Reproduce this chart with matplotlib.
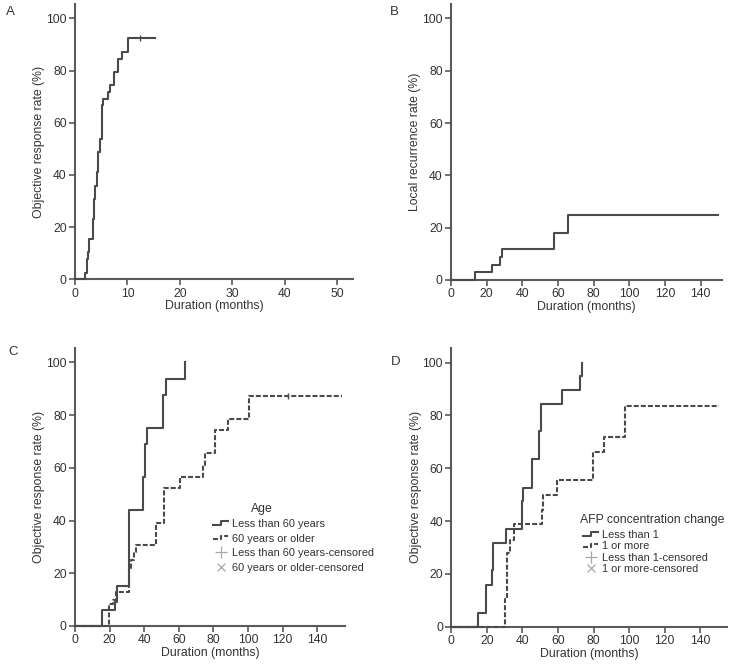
import matplotlib
matplotlib.use("Agg")
import matplotlib.pyplot as plt
from matplotlib.lines import Line2D
from matplotlib.legend_handler import HandlerBase

# Panel A - objective response over time
A_time = [0, 1.9, 2.2, 2.4, 2.7, 3.4, 3.6, 3.75, 3.9, 4.15, 4.4, 4.8, 5.2, 5.35,
          6.25, 6.6, 7.5, 8.2, 8.9, 10.1, 15.3]
A_rate = [0, 2.6, 7.7, 10.3, 15.4, 23.1, 30.8, 33.3, 35.9, 41.0, 48.7, 53.8, 66.7, 69.2,
          71.8, 74.4, 79.5, 84.6, 87.2, 92.3, 92.3]
A_cens = [12.3]

# Panel B - local recurrence
B_time = [0, 13.6, 22.8, 27.5, 28.8, 57.8, 65.7, 150]
B_rate = [0, 3.2, 5.9, 8.8, 11.8, 18.1, 24.8, 24.8]

# Panel C - by age
C_young_time = [0, 15.8, 23.3, 24.0, 31.4, 39.5, 40.5, 41.4, 50.7, 52.6, 63.8]
C_young_rate = [0, 6.1, 9.0, 15.2, 44.0, 56.6, 68.9, 75.0, 87.6, 93.9, 100]
C_old_time = [0, 19.8, 22.2, 23.7, 31.4, 32.6, 34.3, 35.3, 46.8, 51.6, 60.7, 74.2, 75.2,
              80.9, 88.6, 100.8, 154]
C_old_rate = [0, 8.3, 10.0, 13.0, 21.9, 25.0, 28.0, 30.7, 39.2, 52.2, 56.6, 61.0, 65.5,
              74.3, 78.4, 87.1, 87.1]
C_old_cens = [123.3]
C_labels = ["Less than 60 years", "60 years or older",
            "Less than 60 years-censored", "60 years or older-censored"]

# Panel D - by AFP change
D_low_time = [0, 15.2, 19.5, 22.7, 23.3, 30.6, 39.6, 40.5, 45.2, 49.3, 50.3, 62.5, 72.4, 73.5]
D_low_rate = [0, 5.1, 15.8, 21.5, 31.6, 37.0, 47.5, 52.5, 63.3, 74.0, 84.4, 89.6, 94.9, 100]
D_high_time = [0, 30.2, 31.2, 32.8, 35.2, 50.8, 51.4, 59.3, 79.4, 85.8, 97.8, 150.6]
D_high_rate = [0, 10.5, 27.8, 33.0, 38.9, 44.3, 50.0, 55.6, 66.2, 71.9, 83.4, 83.4]
D_labels = ["Less than 1", "1 or more", "Less than 1-censored", "1 or more-censored"]

W, H = 735, 671
plt.rcParams['font.family'] = ['Liberation Sans', 'DejaVu Sans']
INK = '#333333'
AXC = '#5a5a5a'
LINE = '#4a4a4a'
DASH = (0, (2.4, 1.0))
FS = 8.8       # ticks / axis labels
FS_LEG = 7.9   # legend


def box(x0, y0, x1, y1):
    # pixel box (top-left origin) -> figure fraction
    return [x0 / W, 1 - y1 / H, (x1 - x0) / W, (y1 - y0) / H]


class StepHandler(HandlerBase):
    def __init__(self, ls):
        super().__init__()
        self.ls = ls

    def create_artists(self, legend, orig, xd, yd, width, height, fontsize, trans):
        x0, y0 = -xd, -yd
        xs = [x0, x0 + width * 0.5, x0 + width * 0.5, x0 + width]
        ys = [y0 + height * 0.3, y0 + height * 0.3, y0 + height * 0.75, y0 + height * 0.75]
        ln = Line2D(xs, ys, color=orig.get_color(), lw=orig.get_linewidth(),
                    linestyle=self.ls, transform=trans)
        return [ln]


def style(ax, xmax, xticks, ylabel):
    for s in ['top', 'right']:
        ax.spines[s].set_visible(False)
    for s in ['left', 'bottom']:
        ax.spines[s].set_color(AXC)
        ax.spines[s].set_linewidth(1.5)
    ax.set_xlim(0, xmax)
    ax.set_ylim(0, 105.5)
    ax.set_xticks(xticks)
    ax.set_yticks(range(0, 101, 20))
    ax.tick_params(direction='out', length=4, width=1.2, color=AXC,
                   labelcolor=INK, labelsize=FS, pad=2)
    ax.set_xlabel("Duration (months)", fontsize=FS, color=INK, labelpad=0.5)
    ax.set_ylabel(ylabel, fontsize=FS, color=INK, labelpad=0.5)


def curve(ax, t, r, ls='-'):
    ax.plot(t, r, drawstyle='steps-post', color=LINE, lw=1.5, linestyle=ls,
            clip_on=False, zorder=3)


def censor(ax, t, xs, ys):
    yv = [ys[max(i for i, tt in enumerate(xs) if tt <= c)] for c in t]
    ax.plot(t, yv, linestyle='none', marker='|', ms=5, mew=1.0, color=LINE, zorder=4)


fig = plt.figure(figsize=(W / 100, H / 100), dpi=100)

axA = fig.add_axes(box(75, 4, 353, 279.3))
curve(axA, A_time, A_rate)
censor(axA, A_cens, A_time, A_rate)
style(axA, 53, range(0, 51, 10), "Objective response rate (%)")

axB = fig.add_axes(box(451, 4, 722, 280))
curve(axB, B_time, B_rate)
style(axB, 152, range(0, 141, 20), "Local recurrence rate (%)")

axC = fig.add_axes(box(75, 348, 345, 626))
curve(axC, C_young_time, C_young_rate)
curve(axC, C_old_time, C_old_rate, DASH)
censor(axC, C_old_cens, C_old_time, C_old_rate)
style(axC, 156, range(0, 141, 20), "Objective response rate (%)")

axD = fig.add_axes(box(451.3, 348, 727, 626.7))
curve(axD, D_low_time, D_low_rate)
curve(axD, D_high_time, D_high_rate, DASH)
style(axD, 155, range(0, 141, 20), "Objective response rate (%)")


def add_legend(ax, labels, title, tx, ty, lx, ly, spacing):
    h1 = Line2D([], [], color=LINE, lw=1.5)
    h2 = Line2D([], [], color=LINE, lw=1.5)
    h3 = Line2D([], [], color='#a8a8a8', marker='+', ms=9, mew=0.9, linestyle='none')
    h4 = Line2D([], [], color='#a8a8a8', marker='x', ms=5.5, mew=0.9, linestyle='none')
    leg = ax.legend([h1, h2, h3, h4], labels,
                    handler_map={h1: StepHandler('-'), h2: StepHandler(DASH)},
                    loc='upper left', bbox_to_anchor=(lx / W, 1 - ly / H),
                    bbox_transform=fig.transFigure, frameon=False, borderpad=0,
                    borderaxespad=0, handlelength=1.4, handletextpad=0.3,
                    labelspacing=spacing, fontsize=FS_LEG)
    for t in leg.get_texts():
        t.set_color(INK)
    fig.text(tx / W, 1 - ty / H, title, ha='center', va='center', fontsize=FS, color=INK)


add_legend(axC, C_labels, "Age", 262, 509, 213, 519, 0.42)
add_legend(axD, D_labels, "AFP concentration change", 652, 520, 583, 530, 0.12)

for letter, x, y in [("A", 6, 12), ("B", 390, 12), ("C", 8, 352), ("D", 391, 362)]:
    fig.text(x / W, 1 - y / H, letter, ha='left', va='center', fontsize=9.5, color=INK)

fig.savefig("out.png", dpi=100)
